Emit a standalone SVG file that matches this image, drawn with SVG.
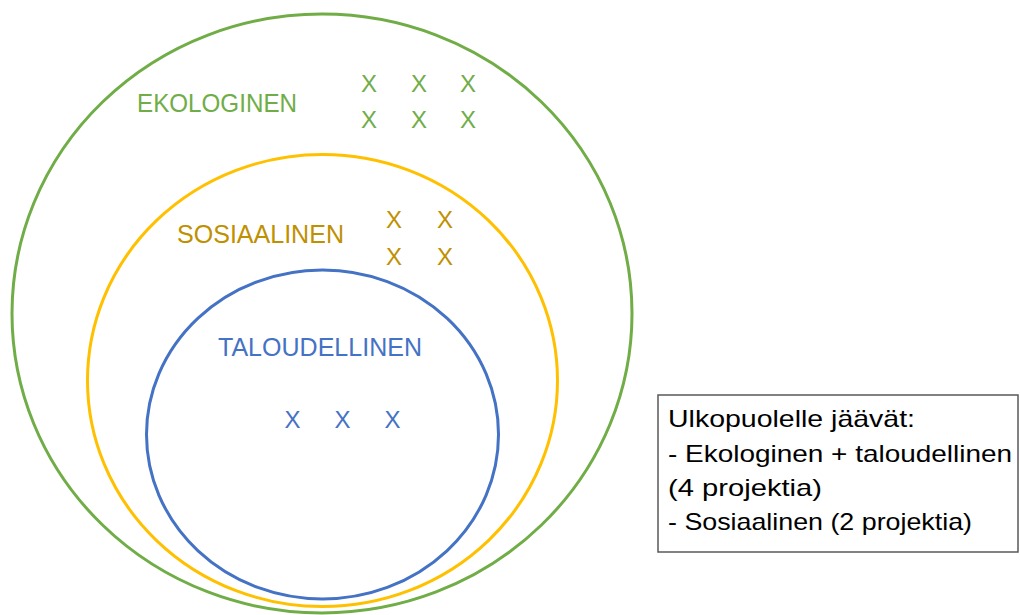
<svg xmlns="http://www.w3.org/2000/svg" width="1020" height="615" viewBox="0 0 1020 615">
<style>
.ring{fill:none;stroke-width:3}
.lbl{font-family:"Liberation Sans",Arial,sans-serif;font-size:25px}
.x{font-family:"Liberation Sans",Arial,sans-serif;font-size:24px;text-anchor:middle}
.box{font-family:"Liberation Sans",Arial,sans-serif;font-size:24px;fill:#000}
.g{fill:#70AD47}.y{fill:#BF9000}.b{fill:#4472C4}
</style>
<rect width="1020" height="615" fill="#fff"/>
<g id="ekologinen">
<ellipse class="ring" cx="322" cy="313.5" rx="310" ry="299.5" stroke="#70AD47"/>
<text class="lbl g" x="137" y="112" textLength="160" lengthAdjust="spacingAndGlyphs">EKOLOGINEN</text>
<text class="x g" x="369" y="92">X</text><text class="x g" x="419" y="92">X</text><text class="x g" x="468" y="92">X</text>
<text class="x g" x="369" y="128">X</text><text class="x g" x="419" y="128">X</text><text class="x g" x="468" y="128">X</text>
</g>
<g id="sosiaalinen">
<ellipse class="ring" cx="322.5" cy="380.5" rx="235" ry="226" stroke="#FFC000"/>
<text class="lbl y" x="177" y="243" textLength="167" lengthAdjust="spacingAndGlyphs">SOSIAALINEN</text>
<text class="x y" x="394" y="228">X</text><text class="x y" x="445" y="228">X</text>
<text class="x y" x="394" y="265">X</text><text class="x y" x="445" y="265">X</text>
</g>
<g id="taloudellinen">
<ellipse class="ring" cx="322.5" cy="434.5" rx="176" ry="164.5" stroke="#4472C4"/>
<text class="lbl b" x="218" y="356" textLength="204" lengthAdjust="spacingAndGlyphs">TALOUDELLINEN</text>
<text class="x b" x="292.5" y="428">X</text><text class="x b" x="342.5" y="428">X</text><text class="x b" x="392.5" y="428">X</text>
</g>
<g id="note">
<rect x="658" y="395" width="360" height="157" fill="#fff" stroke="#595959" stroke-width="1.5"/>
<text class="box" x="668" y="427" textLength="247" lengthAdjust="spacingAndGlyphs">Ulkopuolelle jäävät:</text>
<text class="box" x="668" y="462" textLength="344" lengthAdjust="spacingAndGlyphs">- Ekologinen + taloudellinen</text>
<text class="box" x="668" y="496" textLength="154" lengthAdjust="spacingAndGlyphs">(4 projektia)</text>
<text class="box" x="668" y="530" textLength="304" lengthAdjust="spacingAndGlyphs">- Sosiaalinen (2 projektia)</text>
</g>
<g id="connectors"/>
</svg>
